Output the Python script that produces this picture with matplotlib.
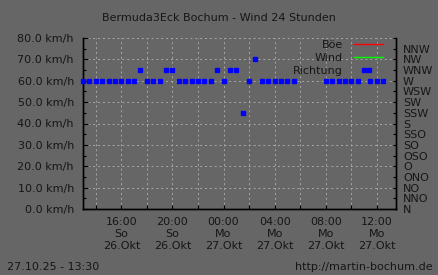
import pandas as pd
import numpy as np
import matplotlib
matplotlib.use("Agg")
import matplotlib.pyplot as plt
import matplotlib.dates as mdates
from matplotlib.ticker import FuncFormatter, MultipleLocator, FixedLocator


# wind direction samples (degrees), every half hour, some gaps
times = [
    "2025-10-26 13:00", "2025-10-26 13:30", "2025-10-26 14:00", "2025-10-26 14:30",
    "2025-10-26 15:00", "2025-10-26 15:30", "2025-10-26 16:00", "2025-10-26 16:30",
    "2025-10-26 17:00", "2025-10-26 17:30", "2025-10-26 18:00", "2025-10-26 18:30",
    "2025-10-26 19:00", "2025-10-26 19:30", "2025-10-26 20:00", "2025-10-26 20:30",
    "2025-10-26 21:00", "2025-10-26 21:30", "2025-10-26 22:00", "2025-10-26 22:30",
    "2025-10-26 23:00", "2025-10-26 23:30", "2025-10-27 00:00", "2025-10-27 00:30",
    "2025-10-27 01:00", "2025-10-27 01:30", "2025-10-27 02:00", "2025-10-27 02:30",
    "2025-10-27 03:00", "2025-10-27 03:30", "2025-10-27 04:00", "2025-10-27 04:30",
    "2025-10-27 05:00", "2025-10-27 05:30",
    "2025-10-27 08:00", "2025-10-27 08:30", "2025-10-27 09:00", "2025-10-27 09:30",
    "2025-10-27 10:00", "2025-10-27 10:30", "2025-10-27 11:00", "2025-10-27 11:30",
    "2025-10-27 12:00", "2025-10-27 12:30",
]
richtung = [
    270, 270, 270, 270, 270, 270, 270, 270,
    270, 292.5, 270, 270, 270, 292.5, 292.5, 270,
    270, 270, 270, 270, 270, 292.5, 270, 292.5,
    292.5, 202.5, 270, 315, 270, 270, 270, 270,
    270, 270,
    270, 270, 270, 270, 270, 270, 292.5, 270,
    270, 270,
]

# no speed values in this period
boe_times = []
boe = []
wind_times = []
wind = []

richtungen = ["N", "NNO", "NO", "ONO", "O", "OSO", "SO", "SSO",
              "S", "SSW", "SW", "WSW", "W", "WNW", "NW", "NNW"]

wochentage = {0: "Mo", 1: "Di", 2: "Mi", 3: "Do", 4: "Fr", 5: "Sa", 6: "So"}
monate = {10: "Okt"}

t = pd.to_datetime(times)

bg = "#666666"
fg = "#161616"
gridc = "#a8a8a8"
fs = 8

plt.rcParams["font.family"] = "DejaVu Sans"

fig = plt.figure(figsize=(4.38, 2.75), dpi=100, facecolor=bg)
ax = fig.add_axes([83 / 438, 1 - 209 / 275, 313 / 438, 171 / 275])
ax.set_facecolor(bg)
ax2 = ax.twinx()

h1, = ax.plot(pd.to_datetime(boe_times), boe, color="#ff0000", lw=1, label="Böe")
h2, = ax.plot(pd.to_datetime(wind_times), wind, color="#00ff00", lw=1, label="Wind")
h3, = ax2.plot(t, richtung, ls="none", marker="s", ms=2.3, color="#0000ff",
               mec="#0000ff", clip_on=False, zorder=5, label="Richtung")

ax.set_ylim(0, 80)
ax2.set_ylim(0, 360)
ax.set_xlim(pd.Timestamp("2025-10-26 13:00"), pd.Timestamp("2025-10-27 13:30"))

ax.yaxis.set_major_locator(MultipleLocator(10))
ax.yaxis.set_minor_locator(MultipleLocator(5))
ax.yaxis.set_major_formatter(FuncFormatter(lambda v, p: "%.1f km/h" % v))

ax2.yaxis.set_major_locator(FixedLocator(np.arange(0, 361, 22.5)))
ax2.set_yticklabels(richtungen + [""])


def xlabel(v, pos):
    d = mdates.num2date(v)
    return "%s\n%s\n%d.%s" % (d.strftime("%H:%M"), wochentage[d.weekday()], d.day, monate[d.month])


ax.xaxis.set_major_locator(mdates.HourLocator(byhour=range(0, 24, 4)))
ax.xaxis.set_minor_locator(mdates.HourLocator(byhour=range(2, 24, 4)))
ax.xaxis.set_major_formatter(FuncFormatter(xlabel))

ax.grid(True, which="major", axis="both", color=gridc, ls=(0, (2, 3)), lw=0.7)
ax.grid(True, which="minor", axis="x", color=gridc, ls=(0, (2, 3)), lw=0.7)

ax.tick_params(axis="y", which="major", direction="in", length=3.5, width=0.8,
               colors="k", labelcolor=fg, labelsize=fs, pad=6.5)
ax.tick_params(axis="y", which="minor", direction="in", length=2, width=0.8, colors="k")
ax.tick_params(axis="x", which="both", direction="in", length=3, width=0.8,
               colors="k", labelcolor=fg, labelsize=fs, pad=6)
ax2.tick_params(axis="y", direction="in", length=2.5, width=0.8,
                colors="k", labelcolor=fg, labelsize=fs, pad=5)
for lab in ax.get_xticklabels():
    lab.set_linespacing(1.2)

for a in (ax, ax2):
    a.spines["top"].set_visible(False)
    for s in ("left", "right", "bottom"):
        a.spines[s].set_color("k")
        a.spines[s].set_linewidth(1)

leg = ax2.legend([h1, h2, h3], ["Böe", "Wind", "Richtung"], loc="upper right",
                 bbox_to_anchor=(383 / 438, 1 - 40 / 275), bbox_transform=fig.transFigure,
                 frameon=False, markerfirst=False, fontsize=fs, handlelength=2.6,
                 handletextpad=1.0, labelspacing=0.25, borderpad=0, borderaxespad=0,
                 numpoints=1)
for txt in leg.get_texts():
    txt.set_color(fg)

fig.text(0.5, 1 - 18 / 275, "Bermuda3Eck Bochum - Wind 24 Stunden",
         ha="center", va="center", fontsize=fs, color=fg)
fig.text(7 / 438, 1 - 267 / 275, "27.10.25 - 13:30",
         ha="left", va="center", fontsize=fs, color=fg)
fig.text(433 / 438, 1 - 267 / 275, "http://martin-bochum.de",
         ha="right", va="center", fontsize=fs, color=fg)

fig.savefig("out.png", dpi=100, facecolor=bg)
